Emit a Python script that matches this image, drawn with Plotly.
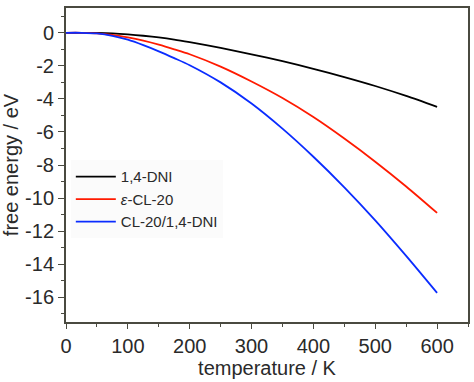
import plotly.graph_objects as go

temperature = [0, 25, 50, 75, 100, 125, 150, 175, 200, 250, 300, 350, 400, 450, 500, 550, 600]
dni = [0, 0, -0.01, -0.04, -0.1, -0.18, -0.28, -0.41, -0.57, -0.92, -1.3, -1.72, -2.18, -2.68, -3.22, -3.82, -4.48]
cl20 = [0, 0, -0.03, -0.12, -0.28, -0.48, -0.72, -1.0, -1.3, -2.05, -2.95, -3.95, -5.1, -6.4, -7.8, -9.3, -10.9]
cocrystal = [0, 0, -0.04, -0.18, -0.42, -0.75, -1.12, -1.53, -1.96, -3.0, -4.28, -5.8, -7.5, -9.35, -11.35, -13.5, -15.74]

names = ["1,4-DNI", "<i>ε</i>-CL-20", "CL-20/1,4-DNI"]
colors = ["#000000", "#ff1a00", "#0a2cff"]

x_ticks = [0, 100, 200, 300, 400, 500, 600]
y_ticks = [0, -2, -4, -6, -8, -10, -12, -14, -16]
y_ticktext = ["0", "-2", "-4", "-6", "-8", "-10", "-12", "-14", "-16"]

fig = go.Figure()
for y, n, c in zip([dni, cl20, cocrystal], names, colors):
    fig.add_trace(go.Scatter(x=temperature, y=y, mode="lines", name=n,
                             line=dict(color=c, width=1.8, shape="spline", smoothing=0.8)))

axcol = "#4a4a40"
font_fam = "Liberation Sans, Arial, sans-serif"
fig.update_layout(
    width=474, height=382,
    margin=dict(l=66, r=6, t=8, b=60),
    paper_bgcolor="white", plot_bgcolor="white",
    font=dict(family=font_fam, color="#2a2a2a", size=20),
    showlegend=True,
    legend=dict(x=0.012, y=0.515, xanchor="left", yanchor="top",
                bgcolor="rgba(251,251,251,1)", font=dict(size=15, color="#2a2a2a"),
                tracegroupgap=0, itemwidth=40),
    xaxis=dict(range=[0, 650], tickvals=x_ticks, ticktext=[str(v) for v in x_ticks],
               ticks="outside", ticklen=5, tickcolor=axcol, tickwidth=1,
               minor=dict(dtick=50, tick0=0, ticks="outside", ticklen=3, tickcolor=axcol),
               showline=True, linecolor=axcol, linewidth=2, mirror=True,
               showgrid=False, zeroline=False, automargin=False,
               title=dict(text="temperature / K", standoff=5, font=dict(size=20)),
               tickfont=dict(size=20)),
    yaxis=dict(range=[-17.5, 1.5], tickvals=y_ticks, ticktext=y_ticktext,
               ticks="outside", ticklen=6, tickcolor=axcol, tickwidth=1,
               minor=dict(dtick=1, tick0=0, ticks="outside", ticklen=3, tickcolor=axcol),
               showline=True, linecolor=axcol, linewidth=2, mirror=True,
               showgrid=False, zeroline=False, automargin=False,
               title=dict(text="free energy / eV", standoff=3, font=dict(size=20)),
               tickfont=dict(size=20)),
)
fig.write_html("out.html", config={"displayModeBar": False},
               post_script="document.body.style.margin='0';document.body.style.padding='0';")
